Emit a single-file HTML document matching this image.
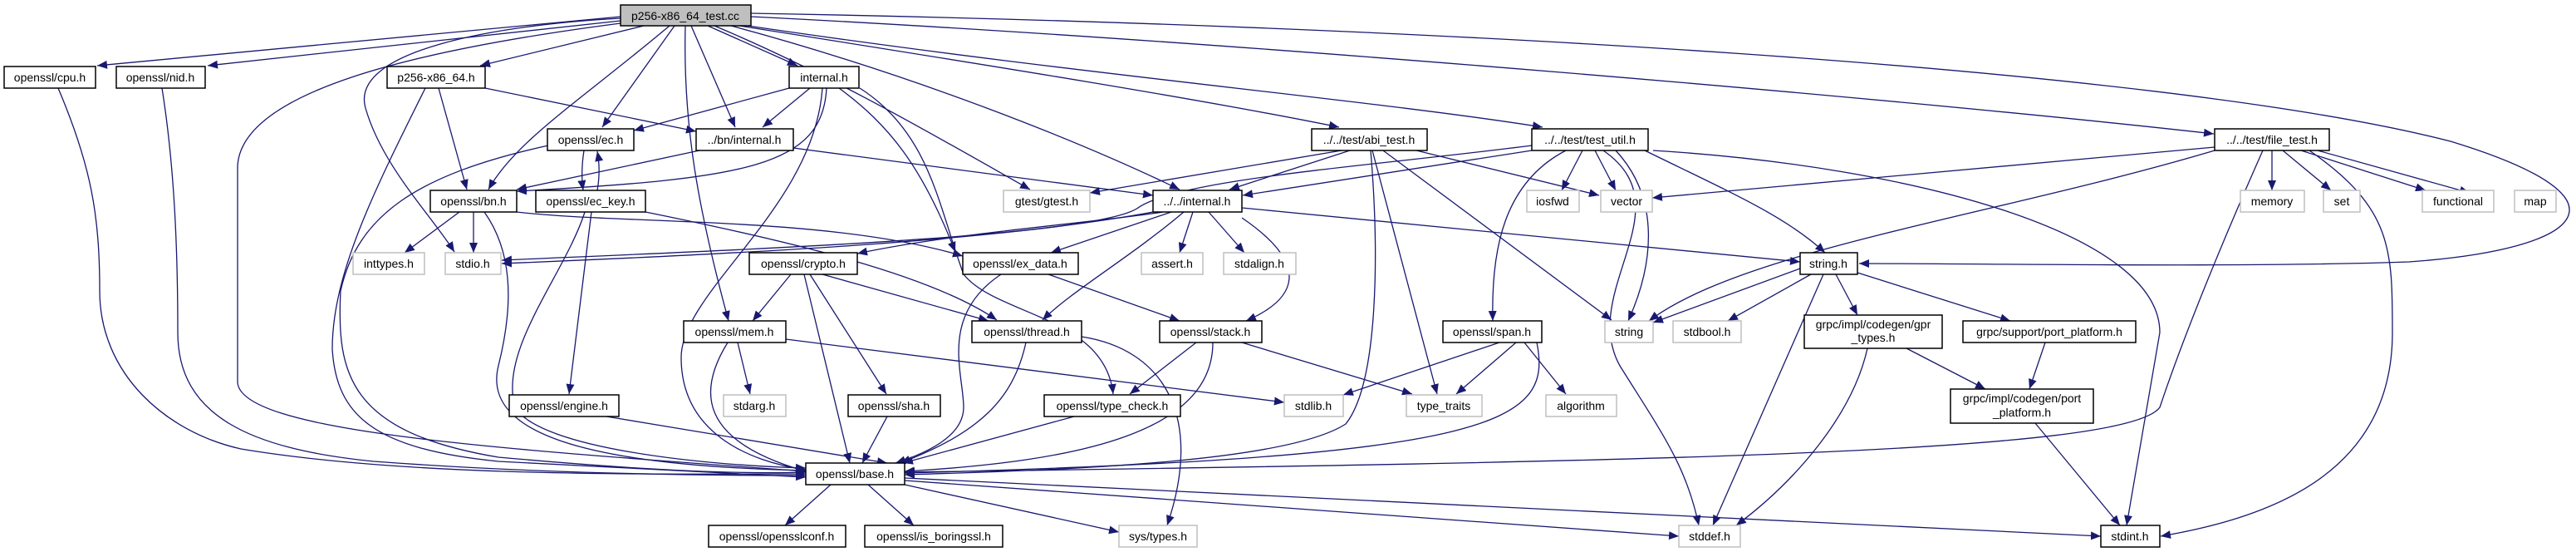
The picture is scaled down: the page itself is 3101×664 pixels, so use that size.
<!DOCTYPE html>
<html><head><meta charset="utf-8"><style>
html,body{margin:0;padding:0;background:#fff;}
svg{display:block;}
text{font-family:"Liberation Sans",sans-serif;font-size:14px;fill:#000;text-anchor:middle;}
.n{fill:#fff;stroke:#000;stroke-width:1.5;}
.g{fill:#fff;stroke:#bfbfbf;stroke-width:1.5;}
.r{fill:#bfbfbf;stroke:#000;stroke-width:1.5;}
path.e{fill:none;stroke:#191970;stroke-width:1.3;marker-end:url(#a);}
</style></head><body>
<svg width="3101" height="664" viewBox="0 0 3101 664" xmlns="http://www.w3.org/2000/svg">
<defs><marker id="a" markerUnits="userSpaceOnUse" markerWidth="13" markerHeight="10" refX="12" refY="5" orient="auto"><path d="M0,0 L12,5 L0,10 z" fill="#191970"/></marker></defs>
<path class="e" d="M747,20 L117,79"/>
<path class="e" d="M747,25 L250,79"/>
<path class="e" d="M775,31 L578,79"/>
<path class="e" d="M852,31 L960,79"/>
<path class="e" d="M812,31 L725,153"/>
<path class="e" d="M806,31 C700,120 620,170 588,228"/>
<path class="e" d="M832,31 L885,153"/>
<path class="e" d="M747,22 C600,30 420,60 440,130 C460,200 520,260 547,303"/>
<path class="e" d="M747,28 C500,60 290,110 286,200 L286,460 C290,520 600,540 970,567"/>
<path class="e" d="M825,31 C822,150 840,250 877,386"/>
<path class="e" d="M860,31 C1000,90 1120,160 1240,228"/>
<path class="e" d="M880,31 C1100,90 1300,170 1420,228"/>
<path class="e" d="M890,31 C1200,80 1450,120 1612,153"/>
<path class="e" d="M900,31 C1300,90 1650,120 1857,153"/>
<path class="e" d="M904,20 C1500,50 2300,120 2665,161"/>
<path class="e" d="M904,16 C1700,30 2600,80 2950,170 C3180,240 3110,300 2900,315 C2700,322 2400,317 2238,317"/>
<path class="e" d="M70,106 C110,200 120,260 120,350 C120,450 200,520 290,540 C500,575 800,570 970,570"/>
<path class="e" d="M195,106 C210,200 214,300 214,400 C214,500 300,540 450,555 C650,570 850,572 970,572"/>
<path class="e" d="M528,106 L562,228"/>
<path class="e" d="M584,106 L838,158"/>
<path class="e" d="M512,106 C450,230 400,330 400,420 C405,500 450,540 600,555 C800,565 900,570 970,574"/>
<path class="e" d="M950,106 L763,157"/>
<path class="e" d="M975,106 L918,153"/>
<path class="e" d="M995,106 C990,200 900,215 622,230"/>
<path class="e" d="M990,106 C980,250 820,350 820,430 C820,520 900,555 970,565"/>
<path class="e" d="M1010,106 C1070,150 1110,200 1150,303"/>
<path class="e" d="M1035,106 C1120,160 1130,250 1160,330 C1200,380 1330,380 1340,474"/>
<path class="e" d="M660,175 C500,210 430,260 410,350 C405,450 420,520 600,550 C800,568 900,570 970,568"/>
<path class="e" d="M703,181 C700,200 700,215 702,229"/>
<path class="e" d="M719,229 C722,212 722,198 719,182"/>
<path class="e" d="M842,181 L622,228"/>
<path class="e" d="M955,178 L1388,235"/>
<path class="e" d="M553,255 L487,304"/>
<path class="e" d="M570,255 L570,304"/>
<path class="e" d="M583,255 C615,300 620,360 600,440 C580,520 700,560 970,566"/>
<path class="e" d="M622,255 C750,270 1000,260 1159,308"/>
<path class="e" d="M777,255 C950,290 1120,330 1200,385"/>
<path class="e" d="M712,255 L685,474"/>
<path class="e" d="M704,255 C680,330 600,420 620,490 C650,540 850,560 970,563"/>
<path class="e" d="M1388,255 C1200,290 900,305 604,317"/>
<path class="e" d="M1400,255 C1300,270 1150,280 1032,305"/>
<path class="e" d="M1410,255 L1265,304"/>
<path class="e" d="M1425,255 C1360,310 1290,350 1255,385"/>
<path class="e" d="M1436,255 L1420,304"/>
<path class="e" d="M1455,255 L1498,304"/>
<path class="e" d="M1495,262 C1580,320 1560,360 1500,386"/>
<path class="e" d="M1495,250 L2167,315"/>
<path class="e" d="M952,330 L906,386"/>
<path class="e" d="M990,330 L1190,386"/>
<path class="e" d="M975,330 L1067,474"/>
<path class="e" d="M968,330 L1023,557"/>
<path class="e" d="M1205,330 C1130,380 1160,450 1160,490 C1160,530 1100,550 1078,557"/>
<path class="e" d="M1262,330 L1420,386"/>
<path class="e" d="M888,412 L903,474"/>
<path class="e" d="M946,408 L1546,484"/>
<path class="e" d="M876,412 C840,470 840,530 970,567"/>
<path class="e" d="M1235,412 C1220,480 1180,520 1084,557"/>
<path class="e" d="M1302,405 C1400,420 1450,500 1405,632"/>
<path class="e" d="M1440,412 L1360,474"/>
<path class="e" d="M1495,412 L1700,474"/>
<path class="e" d="M1460,412 C1460,520 1300,555 1089,567"/>
<path class="e" d="M1805,412 L1617,475"/>
<path class="e" d="M1825,412 L1753,474"/>
<path class="e" d="M1835,412 L1885,474"/>
<path class="e" d="M1850,412 C1870,510 1800,550 1089,569"/>
<path class="e" d="M1068,501 L1038,557"/>
<path class="e" d="M1293,501 L1087,557"/>
<path class="e" d="M730,501 L1068,557"/>
<path class="e" d="M1615,181 L1312,232"/>
<path class="e" d="M1625,181 L1480,228"/>
<path class="e" d="M1705,181 L1925,235"/>
<path class="e" d="M1665,181 L1940,385"/>
<path class="e" d="M1652,181 L1730,474"/>
<path class="e" d="M1650,181 C1660,300 1660,460 1620,510 C1550,555 1300,565 1089,571"/>
<path class="e" d="M1844,175 C1650,200 1420,215 1370,250 C1320,285 900,300 604,313"/>
<path class="e" d="M1844,181 L1496,235"/>
<path class="e" d="M1905,181 L1880,229"/>
<path class="e" d="M1920,181 L1945,229"/>
<path class="e" d="M1980,181 C2080,230 2150,260 2197,304"/>
<path class="e" d="M1945,181 C2000,240 1990,320 1960,386"/>
<path class="e" d="M1885,181 C1810,220 1795,300 1797,386"/>
<path class="e" d="M1930,181 C2030,250 1900,350 1950,440 C2000,520 2030,560 2045,632"/>
<path class="e" d="M1990,181 C2300,200 2600,280 2600,400 L2560,632"/>
<path class="e" d="M2666,177 L1989,238"/>
<path class="e" d="M2666,181 C2400,260 2100,300 1985,386"/>
<path class="e" d="M2735,181 L2735,229"/>
<path class="e" d="M2748,181 L2806,229"/>
<path class="e" d="M2770,181 L2920,229"/>
<path class="e" d="M2790,181 L2973,232"/>
<path class="e" d="M2724,181 C2680,280 2630,400 2600,490 C2560,545 2000,555 1089,568"/>
<path class="e" d="M2780,181 C2880,250 2880,300 2880,400 C2880,560 2750,620 2601,645"/>
<path class="e" d="M2167,323 L1990,388"/>
<path class="e" d="M2195,330 L2062,632"/>
<path class="e" d="M2180,330 L2080,386"/>
<path class="e" d="M2210,330 L2236,379"/>
<path class="e" d="M2236,328 L2420,386"/>
<path class="e" d="M2295,419 L2390,468"/>
<path class="e" d="M2248,419 C2230,500 2160,580 2090,632"/>
<path class="e" d="M2462,412 L2443,468"/>
<path class="e" d="M2450,509 L2552,632"/>
<path class="e" d="M1000,583 L945,632"/>
<path class="e" d="M1045,583 L1100,632"/>
<path class="e" d="M1089,583 L1347,640"/>
<path class="e" d="M1089,578 L2021,645"/>
<path class="e" d="M1089,575 L2529,645"/>
<rect class="r" x="747" y="6" width="157" height="25"/><text x="825" y="24">p256-x86_64_test.cc</text>
<rect class="n" x="5" y="80" width="110" height="26"/><text x="60" y="98">openssl/cpu.h</text>
<rect class="n" x="140" y="80" width="107" height="26"/><text x="193" y="98">openssl/nid.h</text>
<rect class="n" x="466" y="80" width="118" height="26"/><text x="525" y="98">p256-x86_64.h</text>
<rect class="n" x="950" y="80" width="84" height="26"/><text x="992" y="98">internal.h</text>
<rect class="n" x="659" y="155" width="104" height="26"/><text x="711" y="173">openssl/ec.h</text>
<rect class="n" x="838" y="155" width="117" height="26"/><text x="896" y="173">../bn/internal.h</text>
<rect class="n" x="1579" y="155" width="139" height="26"/><text x="1648" y="173">../../test/abi_test.h</text>
<rect class="n" x="1844" y="155" width="140" height="26"/><text x="1914" y="173">../../test/test_util.h</text>
<rect class="n" x="2666" y="155" width="138" height="26"/><text x="2735" y="173">../../test/file_test.h</text>
<rect class="n" x="518" y="229" width="104" height="26"/><text x="570" y="247">openssl/bn.h</text>
<rect class="n" x="645" y="229" width="132" height="26"/><text x="711" y="247">openssl/ec_key.h</text>
<rect class="g" x="1208" y="229" width="104" height="26"/><text x="1260" y="247">gtest/gtest.h</text>
<rect class="n" x="1388" y="229" width="107" height="26"/><text x="1441" y="247">../../internal.h</text>
<rect class="g" x="1838" y="229" width="63" height="26"/><text x="1869" y="247">iosfwd</text>
<rect class="g" x="1927" y="229" width="62" height="26"/><text x="1958" y="247">vector</text>
<rect class="g" x="2697" y="229" width="77" height="26"/><text x="2735" y="247">memory</text>
<rect class="g" x="2797" y="229" width="44" height="26"/><text x="2819" y="247">set</text>
<rect class="g" x="2916" y="229" width="86" height="26"/><text x="2959" y="247">functional</text>
<rect class="g" x="3027" y="229" width="50" height="26"/><text x="3052" y="247">map</text>
<rect class="g" x="425" y="304" width="86" height="26"/><text x="468" y="322">inttypes.h</text>
<rect class="g" x="536" y="304" width="67" height="26"/><text x="569" y="322">stdio.h</text>
<rect class="n" x="902" y="304" width="130" height="26"/><text x="967" y="322">openssl/crypto.h</text>
<rect class="n" x="1159" y="304" width="139" height="26"/><text x="1228" y="322">openssl/ex_data.h</text>
<rect class="g" x="1374" y="304" width="74" height="26"/><text x="1411" y="322">assert.h</text>
<rect class="g" x="1473" y="304" width="87" height="26"/><text x="1516" y="322">stdalign.h</text>
<rect class="n" x="2167" y="304" width="69" height="26"/><text x="2201" y="322">string.h</text>
<rect class="n" x="823" y="386" width="123" height="26"/><text x="884" y="404">openssl/mem.h</text>
<rect class="n" x="1170" y="386" width="132" height="26"/><text x="1236" y="404">openssl/thread.h</text>
<rect class="n" x="1396" y="386" width="123" height="26"/><text x="1457" y="404">openssl/stack.h</text>
<rect class="n" x="1737" y="386" width="119" height="26"/><text x="1796" y="404">openssl/span.h</text>
<rect class="g" x="1932" y="386" width="58" height="26"/><text x="1961" y="404">string</text>
<rect class="g" x="2014" y="386" width="82" height="26"/><text x="2055" y="404">stdbool.h</text>
<rect class="n" x="2172" y="379" width="166" height="40"/><text x="2255" y="395">grpc/impl/codegen/gpr</text><text x="2255" y="411">_types.h</text>
<rect class="n" x="2363" y="386" width="208" height="26"/><text x="2467" y="404">grpc/support/port_platform.h</text>
<rect class="n" x="2348" y="468" width="172" height="41"/><text x="2434" y="484">grpc/impl/codegen/port</text><text x="2434" y="501">_platform.h</text>
<rect class="n" x="613" y="475" width="132" height="26"/><text x="679" y="493">openssl/engine.h</text>
<rect class="g" x="871" y="475" width="75" height="26"/><text x="908" y="493">stdarg.h</text>
<rect class="n" x="1021" y="475" width="111" height="26"/><text x="1076" y="493">openssl/sha.h</text>
<rect class="n" x="1257" y="475" width="164" height="26"/><text x="1339" y="493">openssl/type_check.h</text>
<rect class="g" x="1546" y="475" width="71" height="26"/><text x="1581" y="493">stdlib.h</text>
<rect class="g" x="1693" y="475" width="91" height="26"/><text x="1738" y="493">type_traits</text>
<rect class="g" x="1861" y="475" width="85" height="26"/><text x="1903" y="493">algorithm</text>
<rect class="n" x="970" y="557" width="119" height="26"/><text x="1029" y="575">openssl/base.h</text>
<rect class="n" x="853" y="632" width="165" height="26"/><text x="935" y="650">openssl/opensslconf.h</text>
<rect class="n" x="1041" y="632" width="166" height="26"/><text x="1124" y="650">openssl/is_boringssl.h</text>
<rect class="g" x="1347" y="632" width="94" height="26"/><text x="1394" y="650">sys/types.h</text>
<rect class="g" x="2021" y="632" width="74" height="26"/><text x="2058" y="650">stddef.h</text>
<rect class="n" x="2529" y="632" width="71" height="26"/><text x="2564" y="650">stdint.h</text>
</svg>
</body></html>
